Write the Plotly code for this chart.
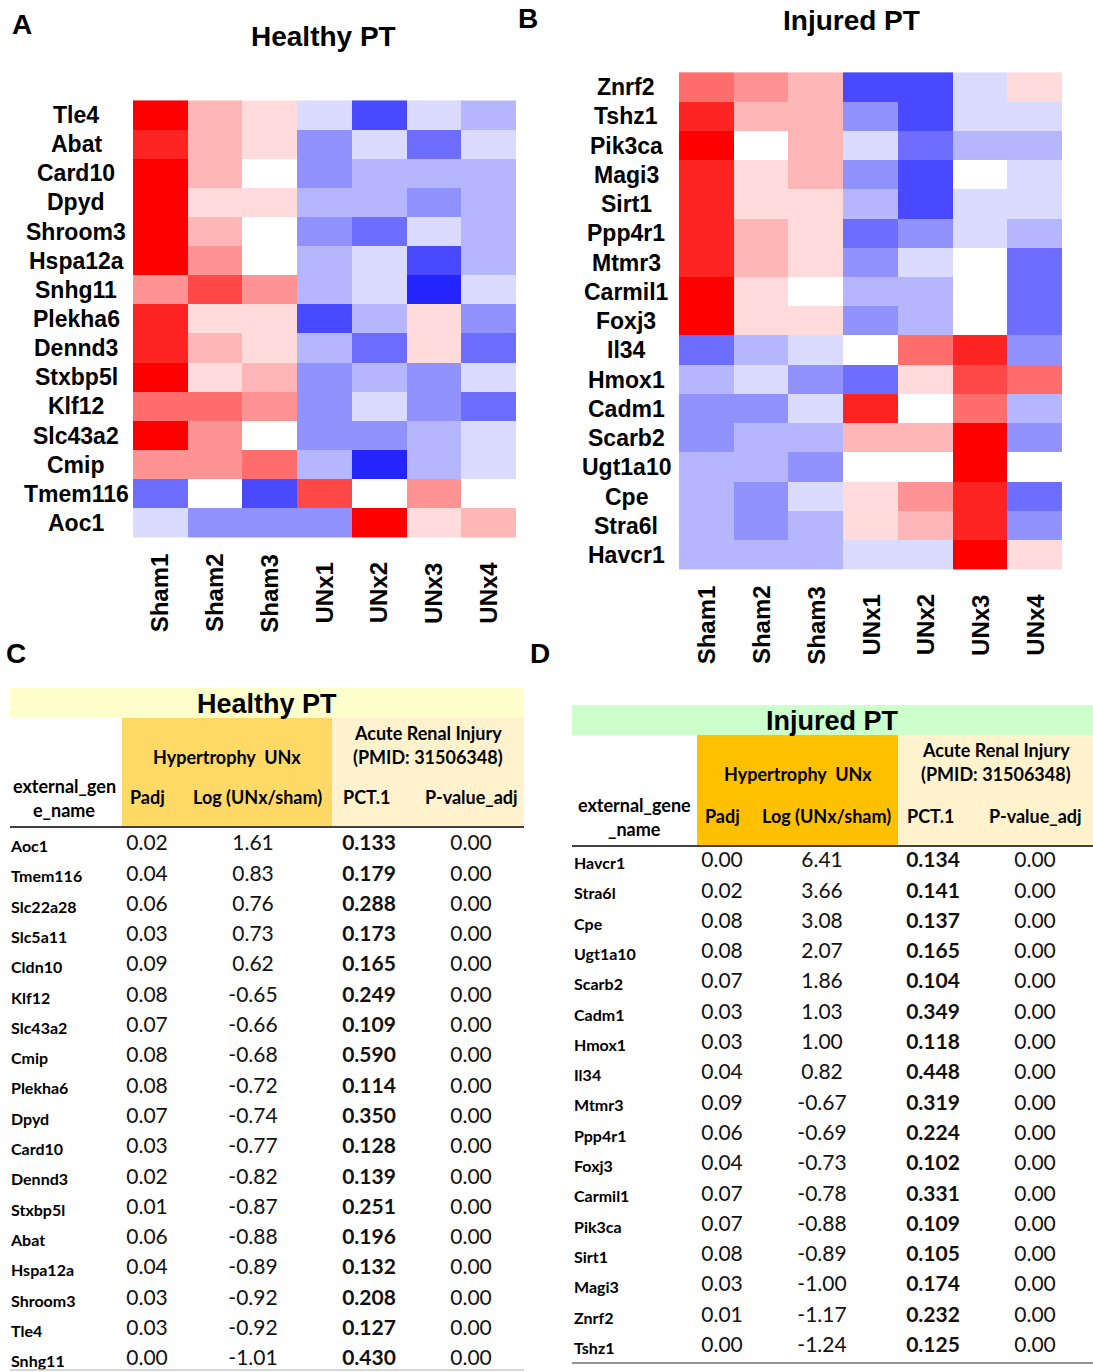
import plotly.graph_objects as go

# ---------------- data ----------------
samples = ["Sham1", "Sham2", "Sham3", "UNx1", "UNx2", "UNx3", "UNx4"]

healthy_genes = ["Tle4", "Abat", "Card10", "Dpyd", "Shroom3", "Hspa12a", "Snhg11",
                 "Plekha6", "Dennd3", "Stxbp5l", "Klf12", "Slc43a2", "Cmip",
                 "Tmem116", "Aoc1"]
healthy_levels = [
    [7, 2, 1, -1, -5, -1, -2],
    [6, 2, 1, -3, -1, -4, -1],
    [7, 2, 0, -3, -2, -2, -2],
    [7, 1, 1, -2, -2, -3, -2],
    [7, 2, 0, -3, -4, -1, -2],
    [7, 3, 0, -2, -1, -5, -2],
    [3, 5, 3, -2, -1, -6, -1],
    [6, 1, 1, -5, -2, 1, -3],
    [6, 2, 1, -2, -4, 1, -4],
    [7, 1, 2, -3, -2, -3, -1],
    [4, 4, 3, -3, -1, -3, -4],
    [7, 3, 0, -3, -3, -2, -1],
    [3, 3, 4, -2, -6, -2, -1],
    [-4, 0, -5, 5, 0, 3, 0],
    [-1, -3, -3, -3, 7, 1, 2],
]

injured_genes = ["Znrf2", "Tshz1", "Pik3ca", "Magi3", "Sirt1", "Ppp4r1", "Mtmr3",
                 "Carmil1", "Foxj3", "Il34", "Hmox1", "Cadm1", "Scarb2", "Ugt1a10",
                 "Cpe", "Stra6l", "Havcr1"]
injured_levels = [
    [4, 3, 2, -5, -5, -1, 1],
    [6, 2, 2, -3, -5, -1, -1],
    [7, 0, 2, -1, -4, -2, -2],
    [6, 1, 2, -3, -5, 0, -1],
    [6, 1, 1, -2, -5, -1, -1],
    [6, 2, 1, -4, -3, -1, -2],
    [6, 2, 1, -3, -1, 0, -4],
    [7, 1, 0, -2, -2, 0, -4],
    [7, 1, 1, -3, -2, 0, -4],
    [-4, -2, -1, 0, 4, 6, -3],
    [-2, -1, -3, -4, 1, 5, 4],
    [-3, -3, -1, 6, 0, 4, -2],
    [-3, -2, -2, 2, 2, 7, -3],
    [-2, -2, -3, 0, 0, 7, 0],
    [-2, -3, -1, 1, 3, 6, -4],
    [-2, -3, -2, 1, 2, 6, -3],
    [-2, -2, -2, -1, -1, 7, 1],
]

c_genes = ["Aoc1", "Tmem116", "Slc22a28", "Slc5a11", "Cldn10", "Klf12", "Slc43a2",
           "Cmip", "Plekha6", "Dpyd", "Card10", "Dennd3", "Stxbp5l", "Abat",
           "Hspa12a", "Shroom3", "Tle4", "Snhg11"]
c_padj = [0.02, 0.04, 0.06, 0.03, 0.09, 0.08, 0.07, 0.08, 0.08, 0.07, 0.03, 0.02,
          0.01, 0.06, 0.04, 0.03, 0.03, 0.00]
c_logfc = [1.61, 0.83, 0.76, 0.73, 0.62, -0.65, -0.66, -0.68, -0.72, -0.74, -0.77,
           -0.82, -0.87, -0.88, -0.89, -0.92, -0.92, -1.01]
c_pct = [0.133, 0.179, 0.288, 0.173, 0.165, 0.249, 0.109, 0.590, 0.114, 0.350,
         0.128, 0.139, 0.251, 0.196, 0.132, 0.208, 0.127, 0.430]
c_pval = [0.00] * 18

d_genes = ["Havcr1", "Stra6l", "Cpe", "Ugt1a10", "Scarb2", "Cadm1", "Hmox1", "Il34",
           "Mtmr3", "Ppp4r1", "Foxj3", "Carmil1", "Pik3ca", "Sirt1", "Magi3",
           "Znrf2", "Tshz1"]
d_padj = [0.00, 0.02, 0.08, 0.08, 0.07, 0.03, 0.03, 0.04, 0.09, 0.06, 0.04, 0.07,
          0.07, 0.08, 0.03, 0.01, 0.00]
d_logfc = [6.41, 3.66, 3.08, 2.07, 1.86, 1.03, 1.00, 0.82, -0.67, -0.69, -0.73,
           -0.78, -0.88, -0.89, -1.00, -1.17, -1.24]
d_pct = [0.134, 0.141, 0.137, 0.165, 0.104, 0.349, 0.118, 0.448, 0.319, 0.224,
         0.102, 0.331, 0.109, 0.105, 0.174, 0.232, 0.125]
d_pval = [0.00] * 17

# ---------------- layout helpers ----------------
W, H = 1093, 1372


def px(x):
    return x / W


def py(y):
    return 1 - y / H


HEAT_FONT = "Liberation Sans, Arial, sans-serif"
TAB_FONT = "Lato, Carlito, sans-serif"
colorscale = [[0, "rgb(0,0,255)"], [0.5, "rgb(255,255,255)"], [1, "rgb(255,0,0)"]]

fig = go.Figure()
fig.add_trace(go.Heatmap(z=healthy_levels, x=samples, y=healthy_genes,
                         colorscale=colorscale, zmin=-7, zmax=7, showscale=False,
                         xaxis="x", yaxis="y", hoverinfo="skip"))
fig.add_trace(go.Heatmap(z=injured_levels, x=samples, y=injured_genes,
                         colorscale=colorscale, zmin=-7, zmax=7, showscale=False,
                         xaxis="x2", yaxis="y2", hoverinfo="skip"))

ann = []
shapes = []

# heatmap labels
heat_panels = [
    dict(genes=healthy_genes, xa="x", ya="y", lab_x=76, samp_y=593),
    dict(genes=injured_genes, xa="x2", ya="y2", lab_x=626, samp_y=625),
]
for p in heat_panels:
    for g in p["genes"]:
        ann.append(dict(xref="paper", yref=p["ya"], x=px(p["lab_x"]), y=g,
                        text="<b>%s</b>" % g, showarrow=False, xanchor="center",
                        yanchor="middle",
                        font=dict(family=HEAT_FONT, size=23, color="black")))
    for s in samples:
        ann.append(dict(xref=p["xa"], yref="paper", x=s, y=py(p["samp_y"]),
                        text="<b>%s</b>" % s, showarrow=False, textangle=-90,
                        xanchor="center", yanchor="middle",
                        font=dict(family=HEAT_FONT, size=24, color="black")))

# titles & panel letters
for txt, x, y, size in [("Healthy PT", 323, 36, 28), ("Injured PT", 851, 21, 28),
                        ("A", 22, 25, 28), ("B", 528, 18, 28),
                        ("C", 16, 653, 28), ("D", 540, 653, 28)]:
    ann.append(dict(xref="paper", yref="paper", x=px(x), y=py(y),
                    text="<b>%s</b>" % txt, showarrow=False, xanchor="center",
                    yanchor="middle",
                    font=dict(family=HEAT_FONT, size=size, color="black")))

# ---------------- tables ----------------
tables = [
    dict(genes=c_genes, padj=c_padj, logfc=c_logfc, pct=c_pct, pval=c_pval,
         title="Healthy PT", title_fill="#FFFFCC", hyp_fill="#FFD966",
         x0=10, x1=524, xh=122, xa=332, ytitle=688, yhead=718, yline=827,
         ybottom=1370, row0=845, pitch=30.3,
         cols=[147, 253, 369, 471], gene_x=11, name_lines=("external_gen", "e_name"),
         name_x=64, bottom_col="#C8C8C8"),
    dict(genes=d_genes, padj=d_padj, logfc=d_logfc, pct=d_pct, pval=d_pval,
         title="Injured PT", title_fill="#CCFFCC", hyp_fill="#FFC000",
         x0=572, x1=1093, xh=697, xa=898, ytitle=705, yhead=735, yline=846,
         ybottom=1363, row0=862, pitch=30.3,
         cols=[722, 822, 933, 1035], gene_x=574, name_lines=("external_gene", "_name"),
         name_x=634, bottom_col="#707070"),
]

for t in tables:
    def rect(xa0, xa1, ya0, ya1, fill):
        shapes.append(dict(type="rect", xref="x3", yref="y3", x0=xa0, x1=xa1,
                           y0=ya0, y1=ya1, fillcolor=fill, line=dict(width=0),
                           layer="below"))
    rect(t["x0"], t["x1"], t["ytitle"], t["yhead"], t["title_fill"])
    rect(t["xh"], t["xa"], t["yhead"], t["yline"], t["hyp_fill"])
    rect(t["xa"], t["x1"], t["yhead"], t["yline"], "#FFF2CC")
    shapes.append(dict(type="line", xref="x3", yref="y3", x0=t["x0"], x1=t["x1"],
                       y0=t["yline"], y1=t["yline"], line=dict(color="#404040", width=2)))
    shapes.append(dict(type="line", xref="x3", yref="y3", x0=t["x0"], x1=t["x1"],
                       y0=t["ybottom"], y1=t["ybottom"],
                       line=dict(color=t["bottom_col"], width=1.5)))

    hy = t["yhead"]
    line2 = hy + 39   # Hypertrophy / PMID line
    line1 = hy + 15   # Acute Renal Injury line
    sub = t["yline"] - 30  # sub-header line

    def htext(x, y, s, size=18):
        ann.append(dict(xref="x3", yref="y3", x=x, y=y, text="<b>%s</b>" % s,
                        showarrow=False, xanchor="center", yanchor="middle",
                        font=dict(family=TAB_FONT, size=size, color="black")))

    ann.append(dict(xref="x3", yref="y3", x=(t["x0"] + t["x1"]) / 2,
                    y=(t["ytitle"] + t["yhead"]) / 2 + 1,
                    text="<b>%s</b>" % t["title"], showarrow=False,
                    xanchor="center", yanchor="middle",
                    font=dict(family=HEAT_FONT, size=27, color="black")))
    htext((t["xh"] + t["xa"]) / 2, line2, "Hypertrophy&nbsp;&nbsp;UNx")
    htext((t["xa"] + t["x1"]) / 2, line1, "Acute Renal Injury")
    htext((t["xa"] + t["x1"]) / 2, line2, "(PMID: 31506348)")
    htext(t["name_x"], sub - 11, t["name_lines"][0])
    htext(t["name_x"], sub + 13, t["name_lines"][1])
    htext(t["cols"][0], sub, "Padj")
    htext(t["cols"][1] + 4, sub, "Log (UNx/sham)")
    htext(t["cols"][2] - 3, sub, "PCT.1")
    htext(t["cols"][3], sub, "P-value_adj")

    n = len(t["genes"])
    ys = [t["row0"] + i * t["pitch"] for i in range(n)]
    fig.add_trace(go.Scatter(
        x=[t["gene_x"]] * n, y=[y + 3 for y in ys],
        text=["<b>%s</b>" % g for g in t["genes"]], mode="text",
        textposition="middle right", xaxis="x3", yaxis="y3", hoverinfo="skip",
        textfont=dict(family=TAB_FONT, size=16, color="black"), showlegend=False))
    for ci, (vals, fmt, bold) in enumerate([(t["padj"], "%.2f", False),
                                            (t["logfc"], "%.2f", False),
                                            (t["pct"], "%.3f", True),
                                            (t["pval"], "%.2f", False)]):
        txt = [fmt % v for v in vals]
        if bold:
            txt = ["<b>%s</b>" % s for s in txt]
        fig.add_trace(go.Scatter(
            x=[t["cols"][ci]] * n, y=ys, text=txt, mode="text",
            textposition="middle center", xaxis="x3", yaxis="y3", hoverinfo="skip",
            textfont=dict(family=TAB_FONT, size=21, color="#111111"),
            showlegend=False))

hidden = dict(showticklabels=False, showgrid=False, zeroline=False, ticks="",
              showline=False)
fig.update_layout(
    width=W, height=H, margin=dict(l=0, r=0, t=0, b=0),
    paper_bgcolor="white", plot_bgcolor="rgba(0,0,0,0)", showlegend=False,
    xaxis=dict(domain=[px(133), px(516)], anchor="y", **hidden),
    yaxis=dict(domain=[py(538), py(100)], anchor="x", autorange="reversed", **hidden),
    xaxis2=dict(domain=[px(679), px(1062)], anchor="y2", **hidden),
    yaxis2=dict(domain=[py(570), py(72)], anchor="x2", autorange="reversed", **hidden),
    xaxis3=dict(domain=[0, 1], range=[0, W], anchor="y3", visible=False),
    yaxis3=dict(domain=[0, 1], range=[H, 0], anchor="x3", visible=False),
    annotations=ann, shapes=shapes,
)

fig.write_html("out.html", config={"displayModeBar": False},
               post_script="document.body.style.margin='0px';"
                           "document.body.style.overflow='hidden';")
